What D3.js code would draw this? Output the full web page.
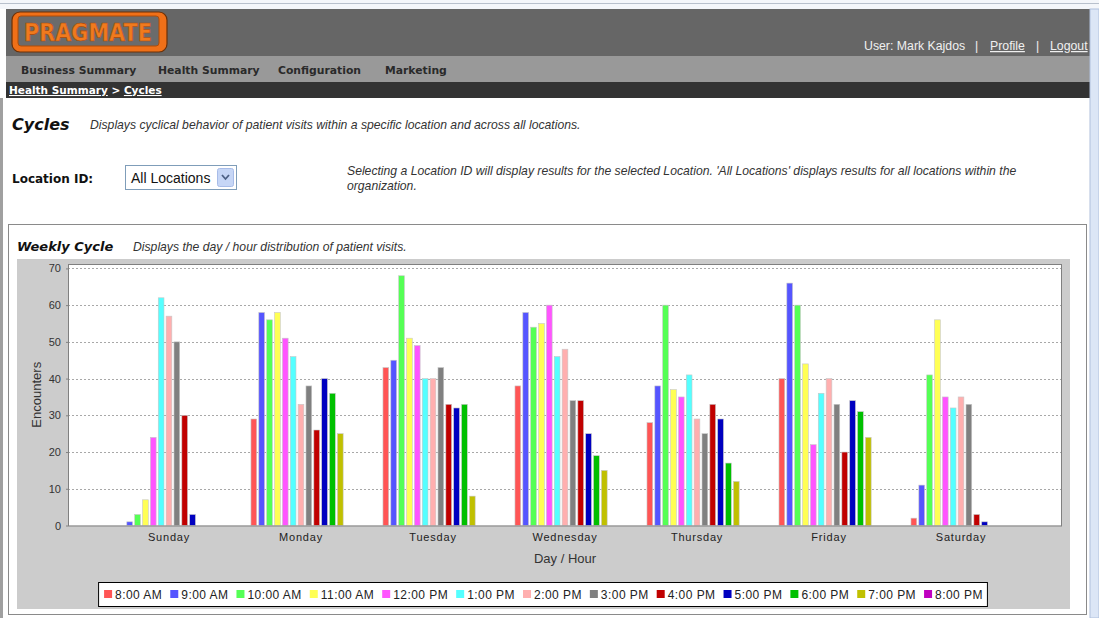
<!DOCTYPE html>
<html>
<head>
<meta charset="utf-8">
<script src="https://cdn.jsdelivr.net/npm/d3@7"></script>
<style>
  html, body { margin: 0; padding: 0; background: #fff; overflow: hidden; }
  svg { display: block; }
</style>
</head>
<body>
<svg id="page" width="1099" height="618"></svg>
<script>
// ---------- data ----------
const days = ["Sunday", "Monday", "Tuesday", "Wednesday", "Thursday", "Friday", "Saturday"];
const hours = ["8:00 AM", "9:00 AM", "10:00 AM", "11:00 AM", "12:00 PM", "1:00 PM", "2:00 PM",
               "3:00 PM", "4:00 PM", "5:00 PM", "6:00 PM", "7:00 PM", "8:00 PM"];
const hourColors = ["#ff5555", "#5555ff", "#55ff55", "#ffff55", "#ff55ff", "#55ffff", "#ffafaf",
                    "#808080", "#c00000", "#0000c0", "#00c000", "#c0c000", "#c000c0"];
const sunday    = [0, 1, 3, 7, 24, 62, 57, 50, 30, 3, 0, 0, 0];
const monday    = [29, 58, 56, 58, 51, 46, 33, 38, 26, 40, 36, 25, 0];
const tuesday   = [43, 45, 68, 51, 49, 40, 40, 43, 33, 32, 33, 8, 0];
const wednesday = [38, 58, 54, 55, 60, 46, 48, 34, 34, 25, 19, 15, 0];
const thursday  = [28, 38, 60, 37, 35, 41, 29, 25, 33, 29, 17, 12, 0];
const friday    = [40, 66, 60, 44, 22, 36, 40, 33, 20, 34, 31, 24, 0];
const saturday  = [2, 11, 41, 56, 35, 32, 35, 33, 3, 1, 0, 0, 0];
const yTicks = [0, 10, 20, 30, 40, 50, 60, 70];
const dayValues = [sunday, monday, tuesday, wednesday, thursday, friday, saturday];

// ---------- page chrome ----------
const svg = d3.select("#page");
const ARIAL = "'Liberation Sans', Arial, sans-serif";
const VERD = "'DejaVu Sans', Verdana, sans-serif";

// top strip
svg.append("rect").attr("x", 0).attr("y", 0).attr("width", 1099).attr("height", 9).attr("fill", "#f4f6fa");
svg.append("line").attr("x1", 0).attr("x2", 1099).attr("y1", 3.5).attr("y2", 3.5).attr("stroke", "#b8c0cc");
// header
svg.append("rect").attr("x", 6).attr("y", 9).attr("width", 1084).attr("height", 47).attr("fill", "#666666");
// logo
const logo = svg.append("g");
logo.append("rect").attr("x", 12).attr("y", 12).attr("width", 155).attr("height", 40).attr("rx", 8)
  .attr("fill", "#f07018").attr("stroke", "#6a3008").attr("stroke-width", 1.2);
logo.append("rect").attr("x", 18).attr("y", 16).attr("width", 141).attr("height", 30).attr("rx", 3)
  .attr("fill", "#6b6b6b").attr("stroke", "#b04c08").attr("stroke-width", 1);
logo.append("text").attr("x", 88).attr("y", 41).attr("text-anchor", "middle")
  .attr("font-family", VERD).attr("font-weight", "bold").attr("font-size", 25)
  .attr("textLength", 128).attr("lengthAdjust", "spacingAndGlyphs")
  .attr("fill", "#f07a1e").attr("stroke", "#a84808").attr("stroke-width", 0.6).text("PRAGMATE");

// user links
const userParts = [["User: Mark Kajdos", 864, false], ["|", 975, false], ["Profile", 990, true],
                   ["|", 1036, false], ["Logout", 1050, true]];
svg.selectAll("text.user").data(userParts).join("text").attr("class", "user")
  .attr("x", d => d[1]).attr("y", 50).attr("font-family", ARIAL).attr("font-size", 12.3)
  .attr("fill", "#f0f0f0").attr("text-decoration", d => d[2] ? "underline" : null).text(d => d[0]);

// nav bar
svg.append("rect").attr("x", 6).attr("y", 56).attr("width", 1084).attr("height", 26).attr("fill", "#999999");
const nav = [["Business Summary", 21], ["Health Summary", 158], ["Configuration", 278], ["Marketing", 385]];
svg.selectAll("text.nav").data(nav).join("text").attr("class", "nav")
  .attr("x", d => d[1]).attr("y", 74).attr("font-family", VERD).attr("font-weight", "bold")
  .attr("font-size", 10.8).attr("fill", "#2a2a2a").text(d => d[0]);

// breadcrumb
svg.append("rect").attr("x", 6).attr("y", 82).attr("width", 1084).attr("height", 16).attr("fill", "#333333");
const bc = svg.append("text").attr("x", 9).attr("y", 94).attr("font-family", VERD).attr("font-weight", "bold")
  .attr("font-size", 10.5).attr("fill", "#ffffff");
bc.append("tspan").attr("text-decoration", "underline").text("Health Summary");
bc.append("tspan").text(" > ");
bc.append("tspan").attr("text-decoration", "underline").text("Cycles");

// left border of body
svg.append("rect").attr("x", 0).attr("y", 98).attr("width", 3).attr("height", 520).attr("fill", "#a0a0a0");
// scrollbar
svg.append("rect").attr("x", 1090).attr("y", 9).attr("width", 9).attr("height", 609).attr("fill", "#dce6f6")
  .attr("stroke", "#b0c0dc");

// title
svg.append("text").attr("x", 12).attr("y", 130).attr("font-family", VERD).attr("font-weight", "bold")
  .attr("font-style", "italic").attr("font-size", 16).attr("fill", "#111").text("Cycles");
svg.append("text").attr("x", 90).attr("y", 129).attr("font-family", ARIAL).attr("font-style", "italic")
  .attr("font-size", 12.2).attr("fill", "#333").text("Displays cyclical behavior of patient visits within a specific location and across all locations.");

// location selector
svg.append("text").attr("x", 12).attr("y", 183).attr("font-family", VERD).attr("font-weight", "bold")
  .attr("font-size", 12).attr("fill", "#111").text("Location ID:");
svg.append("rect").attr("x", 125.5).attr("y", 165.5).attr("width", 111).attr("height", 24)
  .attr("fill", "#fff").attr("stroke", "#7f9db9");
svg.append("text").attr("x", 131).attr("y", 183).attr("font-family", ARIAL).attr("font-size", 14)
  .attr("fill", "#111").text("All Locations");
svg.append("rect").attr("x", 217.5).attr("y", 168.5).attr("width", 16).attr("height", 18).attr("rx", 2)
  .attr("fill", "#c6d6f6").attr("stroke", "#a8bce8");
svg.append("path").attr("d", "M222,175 L225.5,179 L229,175").attr("fill", "none")
  .attr("stroke", "#4d6185").attr("stroke-width", 1.8);
svg.append("text").attr("x", 347).attr("y", 175).attr("font-family", ARIAL).attr("font-style", "italic")
  .attr("font-size", 12.2).attr("fill", "#333")
  .text("Selecting a Location ID will display results for the selected Location. 'All Locations' displays results for all locations within the");
svg.append("text").attr("x", 347).attr("y", 190).attr("font-family", ARIAL).attr("font-style", "italic")
  .attr("font-size", 12.2).attr("fill", "#333").text("organization.");

// panel
svg.append("rect").attr("x", 8.5).attr("y", 224.5).attr("width", 1078).attr("height", 390)
  .attr("fill", "#fff").attr("stroke", "#8a8a8a");
svg.append("text").attr("x", 17).attr("y", 251).attr("font-family", VERD).attr("font-weight", "bold")
  .attr("font-style", "italic").attr("font-size", 13).attr("fill", "#111").text("Weekly Cycle");
svg.append("text").attr("x", 133).attr("y", 251).attr("font-family", ARIAL).attr("font-style", "italic")
  .attr("font-size", 12.2).attr("fill", "#333").text("Displays the day / hour distribution of patient visits.");

// ---------- chart ----------
const bg = {x: 17, y: 259, w: 1053, h: 350};
svg.append("rect").attr("x", bg.x).attr("y", bg.y).attr("width", bg.w).attr("height", bg.h).attr("fill", "#cccccc");

const plot = {left: 68, right: 1062, top: 264, bottom: 525.5};
svg.append("rect").attr("x", plot.left).attr("y", plot.top).attr("width", plot.right - plot.left)
  .attr("height", plot.bottom - plot.top).attr("fill", "#fff");

const y = d3.scaleLinear().domain([0, 71.2]).range([plot.bottom, plot.top]);
const x0 = d3.scaleBand().domain(days).range([plot.left, plot.right]).paddingInner(0.242).paddingOuter(0.386);
const x1 = d3.scaleBand().domain(hours).range([0, x0.bandwidth()]).paddingInner(0.27).paddingOuter(0);
const color = d3.scaleOrdinal().domain(hours).range(hourColors);

// grid
svg.append("g").selectAll("line").data(yTicks.filter(t => t > 0)).join("line")
  .attr("x1", plot.left).attr("x2", plot.right)
  .attr("y1", d => Math.round(y(d)) + 0.5).attr("y2", d => Math.round(y(d)) + 0.5)
  .attr("stroke", "#a8a8a8").attr("stroke-dasharray", "2,2");

// bars
const groups = svg.append("g").selectAll("g").data(days).join("g")
  .attr("transform", d => `translate(${x0(d)},0)`);
groups.selectAll("rect").data((d, i) => hours.map((h, j) => ({h, v: dayValues[i][j]})).filter(e => e.v > 0))
  .join("rect")
  .attr("x", d => x1(d.h)).attr("width", x1.bandwidth())
  .attr("y", d => y(d.v)).attr("height", d => y(0) - y(d.v))
  .attr("fill", d => color(d.h)).attr("stroke", "#c8c8c8").attr("stroke-width", 0.6);

// plot outline
svg.append("rect").attr("x", plot.left + 0.5).attr("y", plot.top + 0.5).attr("width", plot.right - plot.left - 1)
  .attr("height", plot.bottom - plot.top).attr("fill", "none").attr("stroke", "#808080");

// y axis
const yAxis = svg.append("g").attr("transform", `translate(${plot.left},0)`)
  .call(d3.axisLeft(y).tickValues(yTicks).tickSize(2).tickPadding(5));
yAxis.select(".domain").remove();
yAxis.selectAll("line").attr("stroke", "#808080");
yAxis.selectAll("text").attr("font-family", ARIAL).attr("font-size", 11).attr("fill", "#333");

// x axis
const xAxis = svg.append("g").attr("transform", `translate(0,${plot.bottom})`)
  .call(d3.axisBottom(x0).tickSize(0).tickPadding(8));
xAxis.select(".domain").remove();
xAxis.selectAll("text").attr("font-family", ARIAL).attr("font-size", 11).attr("fill", "#222")
  .attr("letter-spacing", "0.8px");

// axis titles
svg.append("text").attr("x", (plot.left + plot.right) / 2).attr("y", 563).attr("text-anchor", "middle")
  .attr("font-family", ARIAL).attr("font-size", 13).attr("fill", "#333").text("Day / Hour");
svg.append("text").attr("transform", `translate(41,${(plot.top + plot.bottom) / 2}) rotate(-90)`)
  .attr("text-anchor", "middle").attr("font-family", ARIAL).attr("font-size", 13).attr("fill", "#333")
  .text("Encounters");

// legend
const lg = svg.append("g");
const lgBox = lg.append("rect").attr("y", 582.5).attr("height", 24).attr("fill", "#fff").attr("stroke", "#000");
let cx = 0;
const items = lg.selectAll("g").data(hours).join("g");
items.each(function(h) {
  const g = d3.select(this);
  g.append("rect").attr("x", cx).attr("y", 590).attr("width", 8).attr("height", 8).attr("fill", color(h));
  const t = g.append("text").attr("x", cx + 11).attr("y", 599).attr("font-family", ARIAL).attr("font-size", 12)
    .attr("fill", "#222").attr("letter-spacing", "0.45px").text(h);
  cx += 11 + t.node().getComputedTextLength() + 8;
});
const lgWidth = cx - 8;
const lgLeft = bg.x + bg.w / 2 - lgWidth / 2;
items.attr("transform", `translate(${lgLeft},0)`);
lgBox.attr("x", lgLeft - 5.5).attr("width", lgWidth + 10);
</script>
</body>
</html>
